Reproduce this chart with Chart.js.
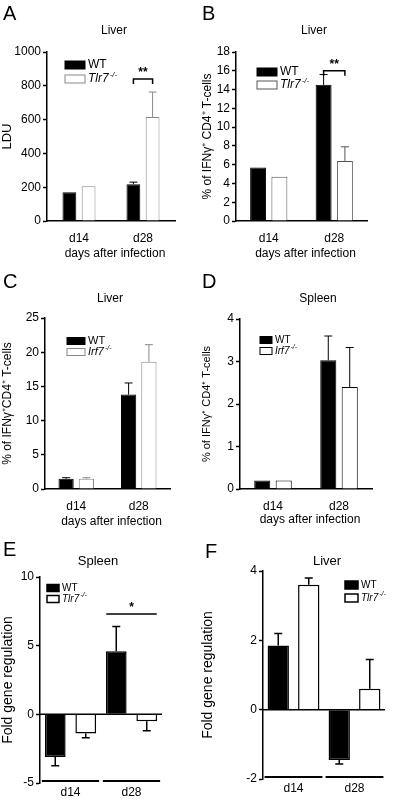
<!DOCTYPE html>
<html>
<head>
<meta charset="utf-8">
<script src="https://cdn.jsdelivr.net/npm/chart.js@4/dist/chart.umd.min.js"></script>
<style>
  body { margin: 0; background: #fff; }
  #wrap { position: relative; width: 401px; height: 800px; }
  canvas { position: absolute; }
</style>
</head>
<body>
<div id="wrap">
  <canvas id="cA" width="200" height="270" style="left:0;top:0"></canvas>
  <canvas id="cB" width="201" height="270" style="left:200px;top:0"></canvas>
  <canvas id="cC" width="200" height="270" style="left:0;top:270px"></canvas>
  <canvas id="cD" width="201" height="270" style="left:200px;top:270px"></canvas>
  <canvas id="cE" width="200" height="260" style="left:0;top:540px"></canvas>
  <canvas id="cF" width="201" height="260" style="left:200px;top:540px"></canvas>
</div>
<script>
const days = ['d14', 'd28'];

const ldu_wt = [170, 218], ldu_wt_err = [0, 12];
const ldu_ko = [205, 615], ldu_ko_err = [0, 148];

const ifnB_wt = [5.7, 14.5], ifnB_wt_err = [0, 1.1];
const ifnB_ko = [4.7, 6.4], ifnB_ko_err = [0, 1.5];

const ifnC_wt = [1.5, 13.8], ifnC_wt_err = [0.15, 1.7];
const ifnC_ko = [1.5, 18.6], ifnC_ko_err = [0.15, 2.5];

const ifnD_wt = [0.2, 3.03], ifnD_wt_err = [0, 0.57];
const ifnD_ko = [0.2, 2.4], ifnD_ko_err = [0, 0.93];

const foldE_wt = [-3.1, 4.6], foldE_wt_err = [0.65, 1.8];
const foldE_ko = [-1.4, -0.5], foldE_ko_err = [0.3, 0.7];

const foldF_wt = [1.85, -1.45], foldF_wt_err = [0.35, 0.12];
const foldF_ko = [3.6, 0.6], foldF_ko_err = [0.2, 0.85];

const FONT = 'Liberation Sans, Arial, sans-serif';

// error bars, legend, titles, brackets
const extras = {
  id: 'extras',
  afterDatasetsDraw(chart, args, o) {
    const ctx = chart.ctx, y = chart.scales.y, a = chart.chartArea;
    ctx.save();
    if (o.zeroLine) {
      ctx.strokeStyle = '#000'; ctx.lineWidth = 1.5;
      ctx.beginPath(); ctx.moveTo(a.left, y.getPixelForValue(0)); ctx.lineTo(a.right, y.getPixelForValue(0)); ctx.stroke();
      // group lines under categories
      chart.getDatasetMeta(0).data.forEach((b0, i) => {
        const b1 = chart.getDatasetMeta(1).data[i];
        const yy = a.bottom - 2;
        ctx.lineWidth = 2;
        ctx.beginPath(); ctx.moveTo(b0.x - b0.width / 2 - 3, yy); ctx.lineTo(b1.x + b1.width / 2 + 3, yy); ctx.stroke();
      });
    }
    chart.data.datasets.forEach((ds, di) => {
      chart.getDatasetMeta(di).data.forEach((bar, i) => {
        const e = ds.err[i]; if (!e) return;
        const v = ds.data[i], end = v + (v < 0 ? -e : e);
        const y0 = y.getPixelForValue(v), y1 = y.getPixelForValue(end);
        ctx.strokeStyle = ds.borderColor; ctx.lineWidth = ds.borderWidth;
        ctx.beginPath(); ctx.moveTo(bar.x, y0); ctx.lineTo(bar.x, y1);
        ctx.moveTo(bar.x - 4, y1); ctx.lineTo(bar.x + 4, y1); ctx.stroke();
      });
    });
    // legend
    const lg = o.legend;
    chart.data.datasets.forEach((ds, di) => {
      const ly = lg.y + di * lg.gap;
      ctx.fillStyle = ds.backgroundColor; ctx.strokeStyle = ds.borderColor; ctx.lineWidth = ds.borderWidth;
      ctx.fillRect(lg.x, ly - lg.h / 2, lg.w, lg.h); ctx.strokeRect(lg.x, ly - lg.h / 2, lg.w, lg.h);
      ctx.fillStyle = '#000'; ctx.textBaseline = 'middle'; ctx.textAlign = 'left';
      const tx = lg.x + lg.w + 3;
      if (di === 0) { ctx.font = lg.fs + 'px ' + FONT; ctx.fillText('WT', tx, ly); }
      else {
        ctx.font = 'italic ' + lg.fs + 'px ' + FONT; ctx.fillText(o.gene, tx, ly);
        const w = ctx.measureText(o.gene).width;
        ctx.font = 'italic ' + Math.round(lg.fs * 0.65) + 'px ' + FONT; ctx.fillText('-/-', tx + w + 1, ly - 4);
      }
    });
    // texts
    ctx.fillStyle = '#000'; ctx.textAlign = 'left'; ctx.textBaseline = 'alphabetic';
    ctx.font = '20px ' + FONT; ctx.fillText(o.letter[0], o.letter[1], o.letter[2]);
    ctx.textAlign = 'center';
    ctx.font = o.titleSize + 'px ' + FONT; ctx.fillText(o.title[0], o.title[1], o.title[2]);
    if (o.xlabel) { ctx.font = '12px ' + FONT; ctx.fillText('days after infection', (a.left + a.right) / 2 + 4, o.xlabel); }
    if (o.sig) {
      const s = o.sig, m0 = chart.getDatasetMeta(0).data[s.idx], m1 = chart.getDatasetMeta(1).data[s.idx];
      const yy = y.getPixelForValue(s.at);
      ctx.strokeStyle = '#000'; ctx.lineWidth = 1.5; ctx.beginPath();
      if (s.bracket) { ctx.moveTo(m0.x, yy + 5); ctx.lineTo(m0.x, yy); ctx.lineTo(m1.x, yy); ctx.lineTo(m1.x, yy + 5); }
      else { ctx.moveTo(m0.x - 10, yy); ctx.lineTo(m1.x + 10, yy); }
      ctx.stroke();
      ctx.font = 'bold 12px ' + FONT; ctx.fillText(s.text, (m0.x + m1.x) / 2, yy - 3);
    }
    ctx.restore();
  }
};

function panel(id, p) {
  const cv = document.getElementById(id);
  const W = cv.width, H = cv.height;
  const black = { label: 'WT', data: p.wt, err: p.wtErr, backgroundColor: '#000', borderColor: '#000', borderWidth: p.bw };
  const white = { label: 'KO', data: p.ko, err: p.koErr, backgroundColor: '#fff', borderColor: p.koBorder, borderWidth: p.bw };
  [black, white].forEach(d => { d.barPercentage = p.barPct; d.categoryPercentage = p.catPct; });
  new Chart(cv, {
    type: 'bar',
    data: { labels: days, datasets: [black, white] },
    plugins: [extras],
    options: {
      responsive: false, animation: false,
      layout: { padding: { top: p.area[1], right: W - p.area[2], left: 0, bottom: 0 } },
      plugins: { legend: { display: false }, tooltip: { enabled: false }, extras: p.extras },
      scales: {
        x: {
          grid: { display: false, drawTicks: false },
          border: { display: !p.extras.zeroLine, color: '#000', width: 1.5 },
          ticks: { color: '#000', font: { family: FONT, size: 12 }, padding: p.extras.zeroLine ? 2 : 10 },
          afterFit: s => { s.height = H - p.area[3]; }
        },
        y: {
          min: p.min, max: p.max,
          grid: { drawOnChartArea: false, tickLength: 4, color: '#000', tickWidth: 1.5 },
          border: { color: '#000', width: 1.5 },
          ticks: { stepSize: p.step, color: '#000', font: { family: FONT, size: 12 }, padding: 2, callback: v => String(v) },
          title: { display: true, text: p.ytitle, color: '#000', font: { family: FONT, size: p.ytSize }, padding: 0 },
          afterFit: s => { s.width = p.area[0]; }
        }
      }
    }
  });
}

panel('cA', {
  wt: ldu_wt, wtErr: ldu_wt_err, ko: ldu_ko, koErr: ldu_ko_err, koBorder: '#888', bw: 1,
  area: [47, 52, 175, 221], min: 0, max: 1000, step: 200, ytitle: 'LDU', ytSize: 13,
  barPct: 0.72, catPct: 0.6,
  extras: { letter: ['A', 3, 20], title: ['Liver', 114, 34], titleSize: 12, xlabel: 257, gene: 'Tlr7',
    legend: { x: 65, y: 65, gap: 14, w: 20, h: 8, fs: 12 },
    sig: { idx: 1, at: 840, text: '**', bracket: true } }
});
panel('cB', {
  wt: ifnB_wt, wtErr: ifnB_wt_err, ko: ifnB_ko, koErr: ifnB_ko_err, koBorder: '#555', bw: 1,
  area: [36, 52, 167, 221], min: 0, max: 18, step: 2, ytitle: '% of IFNγ⁺ CD4⁺ T-cells', ytSize: 12,
  barPct: 0.75, catPct: 0.65,
  extras: { letter: ['B', 2, 20], title: ['Liver', 114, 34], titleSize: 12, xlabel: 257, gene: 'Tlr7',
    legend: { x: 57, y: 72, gap: 13, w: 20, h: 8, fs: 12 },
    sig: { idx: 1, at: 16, text: '**', bracket: true } }
});
panel('cC', {
  wt: ifnC_wt, wtErr: ifnC_wt_err, ko: ifnC_ko, koErr: ifnC_ko_err, koBorder: '#888', bw: 1,
  area: [45, 48, 170, 219], min: 0, max: 25, step: 5, ytitle: '% of IFNγ⁺CD4⁺ T-cells', ytSize: 12,
  barPct: 0.75, catPct: 0.65,
  extras: { letter: ['C', 3, 18], title: ['Liver', 110, 32], titleSize: 12, xlabel: 255, gene: 'Irf7',
    legend: { x: 67, y: 71, gap: 11, w: 18, h: 7, fs: 11 } }
});
panel('cD', {
  wt: ifnD_wt, wtErr: ifnD_wt_err, ko: ifnD_ko, koErr: ifnD_ko_err, koBorder: '#000', bw: 1,
  area: [40, 49, 172, 219], min: 0, max: 4, step: 1, ytitle: '% of IFNγ⁺ CD4⁺ T-cells', ytSize: 11,
  barPct: 0.75, catPct: 0.65,
  extras: { letter: ['D', 2, 18], title: ['Spleen', 118, 32], titleSize: 12, xlabel: 253, gene: 'Irf7',
    legend: { x: 60, y: 70, gap: 11, w: 12, h: 7, fs: 10 } }
});
panel('cE', {
  wt: foldE_wt, wtErr: foldE_wt_err, ko: foldE_ko, koErr: foldE_ko_err, koBorder: '#000', bw: 1.5,
  area: [40, 37, 162, 243], min: -5, max: 10, step: 5, ytitle: 'Fold gene regulation', ytSize: 14,
  barPct: 0.68, catPct: 1,
  extras: { letter: ['E', 3, 16], title: ['Spleen', 98, 25], titleSize: 13, gene: 'Tlr7', zeroLine: true,
    legend: { x: 47, y: 48, gap: 11, w: 12, h: 7, fs: 10 },
    sig: { idx: 1, at: 7.3, text: '*', bracket: false } }
});
panel('cF', {
  wt: foldF_wt, wtErr: foldF_wt_err, ko: foldF_ko, koErr: foldF_ko_err, koBorder: '#000', bw: 1.5,
  area: [63, 31, 185, 239], min: -2, max: 4, step: 2, ytitle: 'Fold gene regulation', ytSize: 14,
  barPct: 0.7, catPct: 1,
  extras: { letter: ['F', 5, 18], title: ['Liver', 127, 25], titleSize: 13, gene: 'Tlr7', zeroLine: true,
    legend: { x: 145, y: 45, gap: 13, w: 13, h: 8, fs: 10 } }
});
</script>
</body>
</html>
